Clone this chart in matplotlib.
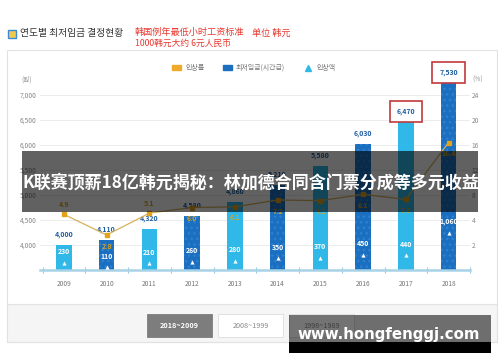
import matplotlib
matplotlib.use("Agg")
import matplotlib.pyplot as plt
import numpy as np
from matplotlib.patches import Rectangle, Patch
from matplotlib.lines import Line2D

plt.rcParams['font.family'] = ['Noto Sans CJK KR', 'DejaVu Sans']

years = ['2009', '2010', '2011', '2012', '2013', '2014', '2015', '2016', '2017', '2018']
wage = [4000, 4110, 4320, 4580, 4860, 5210, 5580, 6030, 6470, 7530]
rate = [4.9, 2.8, 5.1, 6.0, 6.1, 7.2, 7.1, 8.1, 7.3, 16.4]
raise_amt = [230, 110, 210, 260, 280, 350, 370, 450, 440, 1060]
left_ticks = [4000, 4500, 5000, 5500, 6000, 6500, 7000]
right_ticks = [2, 4, 8, 12, 16, 20, 24]
boxed = ['2017', '2018']

light = '#2fb8e8'
dark = '#1b6fc0'
gold = '#e3a21a'
W, H = 500, 362


def fx(px):
    return px / W


def fy(py):
    return 1 - py / H


# right axis is piecewise: 0-4 stretched, 4-24 compressed
def fwd(r):
    r = np.asarray(r, dtype=float)
    return np.where(r <= 4, 3500 + r * 250, 4500 + (r - 4) * 125)


def inv(v):
    v = np.asarray(v, dtype=float)
    return np.where(v <= 4500, (v - 3500) / 250, 4 + (v - 4500) / 125)


fig = plt.figure(figsize=(5, 3.62), dpi=100)
fig.patch.set_facecolor('white')

# panel frame
fig.add_artist(Rectangle((fx(7), fy(342)), fx(490), 292 / H, transform=fig.transFigure,
                         fc='white', ec='#e2e2e2', lw=0.8, zorder=-5))
fig.add_artist(Rectangle((fx(7), fy(342)), fx(490), 38 / H, transform=fig.transFigure,
                         fc='#f5f5f5', ec='#e2e2e2', lw=0.8, zorder=-4))

ax = fig.add_axes([fx(40), fy(270), fx(430), 187 / H])
ymax = 7240
x = np.arange(len(years))
cols = [light if i % 2 == 0 else dark for i in range(len(years))]
bars = ax.bar(x, wage, width=0.36, color=cols, zorder=2)
for i, b in enumerate(bars):
    if i % 2 == 1:
        b.set_hatch('...')
        b.set_edgecolor('#2f80cf')
        b.set_linewidth(0)

ax.set_xlim(-0.56, 9.5)
ax.set_ylim(3500, ymax)
ax.set_yticks(left_ticks)
ax.set_yticklabels([f'{v:,}' for v in left_ticks])
ax.grid(axis='y', color='#ececec', lw=0.7, zorder=0)
ax.set_xticks(x)
ax.set_xticklabels(years)
ax.set_xticks(np.arange(-0.5, 10, 1), minor=True)
ax.tick_params(axis='x', which='major', length=0, pad=7, labelsize=4.8, labelcolor='#777')
ax.tick_params(axis='x', which='minor', length=4, direction='inout', color='#9ccbe0', width=0.8)
ax.tick_params(axis='y', length=0, pad=2.5, labelsize=4.8, labelcolor='#888')
for s in ['top', 'left', 'right']:
    ax.spines[s].set_visible(False)
ax.spines['bottom'].set_color('#a8d3e6')
ax.spines['bottom'].set_linewidth(1.8)

# wage labels above bars
for i, v in enumerate(wage):
    lab = ax.annotate(f'{v:,}', (i, min(v, ymax)), xytext=(0, 7.5), textcoords='offset points',
                      ha='center', va='center', fontsize=5, fontweight='bold',
                      color='#1f5fa0', annotation_clip=False, zorder=6)
    if years[i] in boxed:
        lab.set_bbox(dict(boxstyle='square,pad=1.0', fc='white', ec='#c0393b', lw=1.2))

# raise amounts inside bars with small triangles
for i, a in enumerate(raise_amt):
    yl = 3700 + 0.72 * a
    ax.text(i, yl, f'{a:,}', ha='center', va='center', fontsize=5, fontweight='bold',
            color='white', zorder=4)
    ax.scatter(i, yl - 220, marker='^', s=9, color='white', lw=0, zorder=4)

# rate line on right axis
ax2 = ax.twinx()
ax2.set_yscale('function', functions=(fwd, inv))
ax2.set_ylim(0, float(inv(ymax)))
ax2.set_yticks(right_ticks)
ax2.set_yticklabels([str(t) for t in right_ticks])
ax2.tick_params(axis='y', length=0, pad=1, labelsize=4.8, labelcolor='#888')
for s in ax2.spines.values():
    s.set_visible(False)
ax2.plot(x, rate, color='#d6b25a', lw=0.9, marker='s', ms=3.5,
         mfc=gold, mec=gold, zorder=5)
for i, r in enumerate(rate):
    above = fwd(r) - wage[i] > 250
    ax2.annotate(f'{r}', (i, r), xytext=(0, 7 if above else -8), textcoords='offset points',
                 ha='center', va='center', fontsize=5, fontweight='bold', color='#d9a21c')

# legend
handles = [Patch(color='#f0aa2a'), Patch(color=dark),
           Line2D([], [], marker='^', color=light, ls='none', ms=4)]
fig.legend(handles, ['인상률', '최저임금(시간급)', '인상액'], loc='center',
           bbox_to_anchor=(fx(254), fy(68)), ncol=3, frameon=False, fontsize=5,
           handlelength=1.3, handleheight=0.6, columnspacing=2.6, handletextpad=0.6,
           labelcolor='#777')

fig.text(fx(21), fy(80), '(원)', fontsize=4.8, color='#999', va='center')
fig.text(fx(472), fy(80), '(%)', fontsize=4.8, color='#999', va='center')

# title
fig.add_artist(Rectangle((fx(8), fy(38)), fx(8), 8 / H, transform=fig.transFigure,
                         fc='#f2c94c', ec='#3b8ad6', lw=1))
fig.text(fx(20), fy(33), '연도별 최저임금 결정현황', fontsize=7, color='#333',
         va='center', fontweight='medium')
fig.text(fx(135), fy(32), '韩国例年最低小时工资标准', fontsize=6.6, color='#e8382f',
         va='center', family=['Noto Sans CJK SC'])
fig.text(fx(252), fy(33), '单位 韩元', fontsize=6.6, color='#e8382f',
         va='center', family=['Noto Sans CJK SC'])
fig.text(fx(135), fy(43), '1000韩元大约 6元人民币', fontsize=6.3, color='#e8382f',
         va='center', family=['Noto Sans CJK SC'])

# period buttons
fig.add_artist(Rectangle((fx(147), fy(337)), fx(65), 23 / H, transform=fig.transFigure,
                         fc='#7d7d7d', ec='#7d7d7d', lw=0.6))
fig.text(fx(179.5), fy(325.5), '2018~2009', fontsize=5.2, color='white',
         ha='center', va='center', fontweight='bold')
for x0, lab in [(218, '2008~1999'), (289, '1998~1989')]:
    fig.add_artist(Rectangle((fx(x0), fy(337)), fx(65), 23 / H, transform=fig.transFigure,
                             fc='white', ec='#dddddd', lw=0.6))
    fig.text(fx(x0 + 32.5), fy(325.5), lab, fontsize=5.2, color='#888',
             ha='center', va='center')

# overlays
fig.add_artist(Rectangle((fx(22), fy(212)), fx(456), 61 / H, transform=fig.transFigure,
                         fc='black', alpha=0.62, lw=0, zorder=10))
fig.text(fx(22), fy(183), 'K联赛顶薪18亿韩元揭秘：林加德合同含门票分成等多元收益',
         fontsize=12.25, color='white', fontweight='bold', va='center',
         family=['Noto Sans CJK SC'], zorder=11)
fig.add_artist(Rectangle((fx(289), fy(342)), fx(202), 27 / H, transform=fig.transFigure,
                         fc='black', alpha=0.55, lw=0, zorder=10))
fig.add_artist(Rectangle((fx(289), fy(353)), fx(202), 11 / H, transform=fig.transFigure,
                         fc='black', lw=0, zorder=10))
fig.text(fx(389), fy(335), 'www.hongfenggj.com', fontsize=10.8, color='white',
         fontweight='bold', ha='center', va='center', family=['DejaVu Sans'], zorder=11)

fig.savefig('out.png', dpi=100)
